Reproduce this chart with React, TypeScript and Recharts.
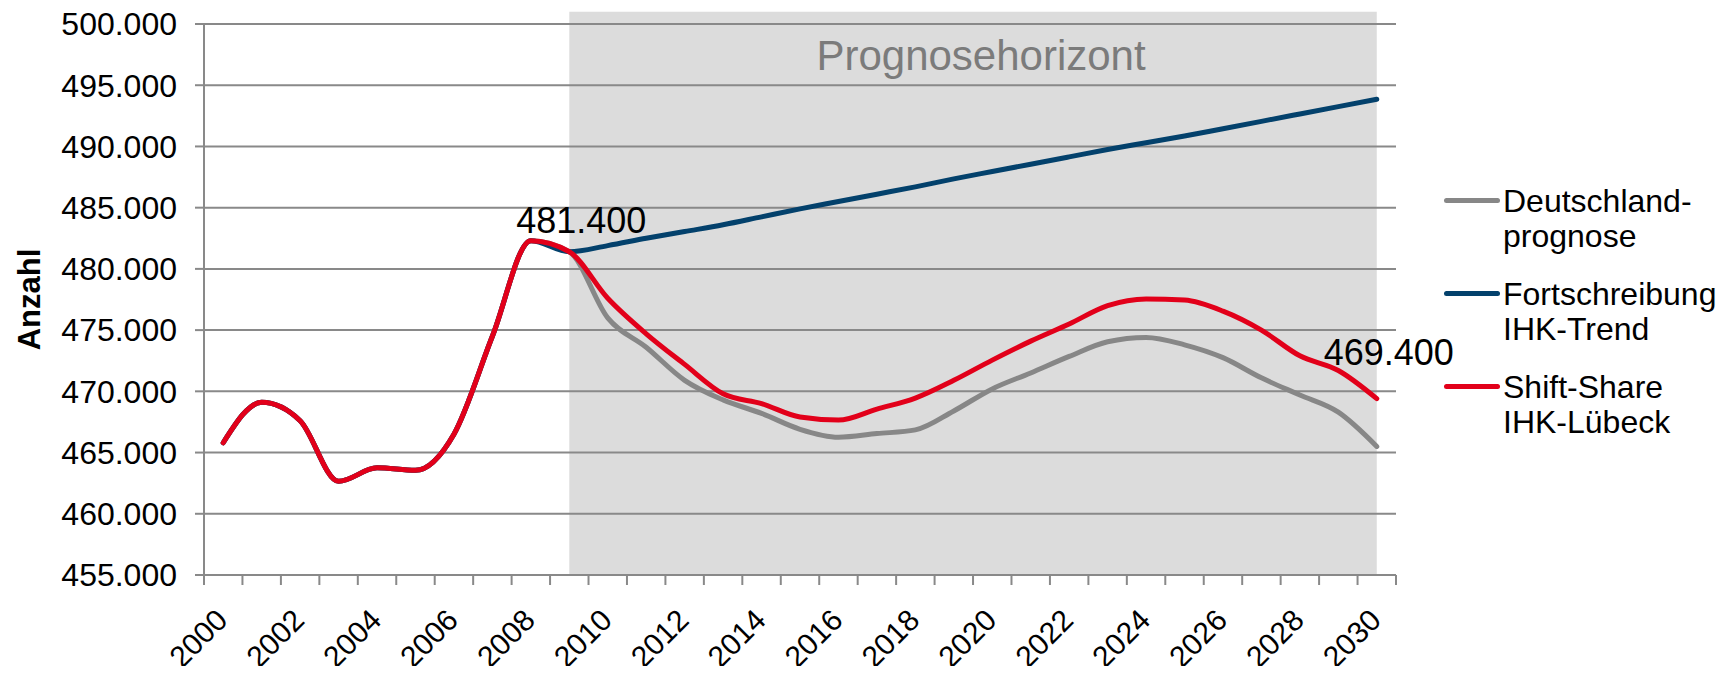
import React from 'react';
import {
  LineChart,
  Line,
  XAxis,
  YAxis,
  CartesianGrid,
  ReferenceArea,
  Legend,
  LabelList,
} from 'recharts';

// ---------- data ----------
const YEARS = [
  '2000', '2001', '2002', '2003', '2004', '2005', '2006', '2007', '2008', '2009',
  '2010', '2011', '2012', '2013', '2014', '2015', '2016', '2017', '2018', '2019',
  '2020', '2021', '2022', '2023', '2024', '2025', '2026', '2027', '2028', '2029', '2030',
];

const HISTORY = [465800, 469100, 467600, 462650, 463750, 463550, 466500, 474500, 482300, 481400];

const DEUTSCHLAND = [
  ...HISTORY,
  476000, 473600, 470900, 469300, 468200, 466900, 466250, 466550, 466850, 468400,
  470200, 471500, 472850, 474050, 474400, 473800, 472750, 471100, 469700, 468300, 465500,
];

const FORTSCHREIBUNG = [
  ...HISTORY,
  481900, 482500, 483050, 483600, 484250, 484900, 485500, 486100, 486700, 487350,
  487950, 488550, 489150, 489750, 490300, 490850, 491450, 492050, 492650, 493250, 493850,
];

const SHIFT_SHARE = [
  ...HISTORY,
  477600, 474700, 472200, 469800, 469000, 467900, 467650, 468550, 469450, 470900,
  472550, 474100, 475500, 477000, 477550, 477450, 476550, 475000, 472900, 471700, 469400,
];

const Y_TICKS = [455000, 460000, 465000, 470000, 475000, 480000, 485000, 490000, 495000, 500000];

const SERIES_NAMES = ['Deutschland-\nprognose', 'Fortschreibung\nIHK-Trend', 'Shift-Share\nIHK-Lübeck'];
const Y_TITLE = 'Anzahl';
const SHADE_LABEL = 'Prognosehorizont';
const SHADE_FROM = '2009';
const SHADE_TO = '2030';
const SHADE_BOTTOM = 455000;
const SHADE_TOP = 501000;
const LABELLED = [9, 30];

const data = YEARS.map((year, i) => ({
  year,
  de: DEUTSCHLAND[i],
  fort: FORTSCHREIBUNG[i],
  shift: SHIFT_SHARE[i],
}));

// ---------- styles ----------
const FONT = '"Liberation Sans", Arial, sans-serif';
const CHART_W = 1710;
const BOX_H = 658;
const CHART_H = 666;
const Y_AXIS_W = 196;
const MARGIN_TOP = 16;
const LEGEND_W = 274;
const MARGIN_RIGHT = 48;
const X_AXIS_H = 99;
const PLOT_W = CHART_W - Y_AXIS_W - LEGEND_W - MARGIN_RIGHT;
const CAT_STEP = PLOT_W / YEARS.length;
const AXIS_COLOR = '#898989';
const GREY = '#878787';
const BLUE = '#03416c';
const RED = '#e2001a';
const SHADE = '#dcdcdc';

const fmt = (v: number) => String(Math.round(v)).replace(/\B(?=(\d{3})+(?!\d))/g, '.');

const XTick = (props: any) => {
  const { x, y, payload } = props;
  const i = payload.index;
  const half = CAT_STEP / 2;
  const tx = x + 6;
  const ty = y + 47;
  return (
    <g>
      <line x1={x - half} x2={x - half} y1={y} y2={y + 10} stroke={AXIS_COLOR} strokeWidth={2} />
      {i === YEARS.length - 1 && (
        <line x1={x + half} x2={x + half} y1={y} y2={y + 10} stroke={AXIS_COLOR} strokeWidth={2} />
      )}
      {i % 2 === 0 && (
        <text
          x={tx}
          y={ty}
          transform={`rotate(-45 ${tx} ${ty})`}
          textAnchor="end"
          fontSize={30}
          fontFamily={FONT}
          fill="#000"
        >
          {payload.value}
        </text>
      )}
    </g>
  );
};

const LABEL_DY: Record<number, number> = { 9: -19, 30: -34 };

const renderDataLabel = (props: any) => {
  const { x, y, value, index } = props;
  if (!LABELLED.includes(index)) return null;
  return (
    <text
      x={x + 12}
      y={y + LABEL_DY[index]}
      textAnchor="middle"
      fontSize={36}
      fontFamily={FONT}
      fill="#000"
    >
      {fmt(value)}
    </text>
  );
};

const renderLegend = (props: any) => {
  const { payload } = props;
  return (
    <div style={{ fontFamily: FONT, fontSize: 32, lineHeight: '35px', color: '#000' }}>
      {payload.map((p: any, idx: number) => (
        <div key={idx} style={{ position: 'relative', height: 93 }}>
          <div
            style={{
              position: 'absolute',
              left: 0,
              top: 14,
              width: 56,
              height: 5,
              borderRadius: 3,
              background: p.color,
            }}
          />
          <div style={{ position: 'absolute', left: 59, top: 0, whiteSpace: 'nowrap' }}>
            {String(p.value)
              .split('\n')
              .map((line: string, k: number) => (
                <div key={k}>{line}</div>
              ))}
          </div>
        </div>
      ))}
    </div>
  );
};

const renderShadeLabel = (props: any) => {
  const vb = props.viewBox || {};
  return (
    <text
      x={vb.x + vb.width / 2 + 8}
      y={vb.y + 58}
      textAnchor="middle"
      fontSize={42}
      fontFamily={FONT}
      fill="#7b7b7b"
    >
      {SHADE_LABEL}
    </text>
  );
};

const renderYTitle = (props: any) => {
  const vb = props.viewBox || {};
  const cx = vb.x + 32;
  const cy = vb.y + vb.height / 2;
  return (
    <text
      x={cx}
      y={cy}
      transform={`rotate(-90 ${cx} ${cy})`}
      textAnchor="middle"
      fontSize={31}
      fontWeight="bold"
      fontFamily={FONT}
      fill="#000"
    >
      {Y_TITLE}
    </text>
  );
};

export default function App() {
  return (
    <div style={{ width: CHART_W, height: BOX_H, fontFamily: FONT }}>
      <LineChart
        width={CHART_W}
        height={CHART_H}
        data={data}
        margin={{ top: MARGIN_TOP, right: MARGIN_RIGHT, bottom: 0, left: 0 }}
      >
        <ReferenceArea
          x1={SHADE_FROM}
          x2={SHADE_TO}
          y1={SHADE_BOTTOM}
          y2={SHADE_TOP}
          fill={SHADE}
          fillOpacity={1}
          stroke="none"
          ifOverflow="visible"
          zIndex={-200}
          label={renderShadeLabel}
        />
        <CartesianGrid vertical={false} stroke={AXIS_COLOR} strokeWidth={2} strokeDasharray="" />
        <XAxis
          dataKey="year"
          type="category"
          interval={0}
          height={X_AXIS_H}
          padding={{ left: CAT_STEP / 2, right: CAT_STEP / 2 }}
          axisLine={{ stroke: AXIS_COLOR, strokeWidth: 2 }}
          tickLine={false}
          tickSize={0}
          tickMargin={0}
          tick={<XTick />}
        />
        <YAxis
          width={Y_AXIS_W}
          domain={[455000, 500000]}
          ticks={Y_TICKS}
          interval={0}
          tickFormatter={fmt}
          axisLine={{ stroke: AXIS_COLOR, strokeWidth: 2 }}
          tickLine={{ stroke: AXIS_COLOR, strokeWidth: 2 }}
          tickSize={9}
          tickMargin={18}
          tick={{ fontSize: 32, fontFamily: FONT, fill: '#000' }}
          label={{ value: Y_TITLE, content: renderYTitle }}
        />
        <Legend
          layout="vertical"
          align="right"
          verticalAlign="middle"
          content={renderLegend}
          wrapperStyle={{ position: 'absolute', left: 1436, top: 176, width: LEGEND_W, height: 290 }}
        />
        <Line
          name={SERIES_NAMES[0]}
          dataKey="de"
          type="monotone"
          stroke={GREY}
          strokeWidth={5}
          strokeLinecap="round"
          strokeLinejoin="round"
          dot={false}
          activeDot={false}
          isAnimationActive={false}
        />
        <Line
          name={SERIES_NAMES[1]}
          dataKey="fort"
          type="monotone"
          stroke={BLUE}
          strokeWidth={5}
          strokeLinecap="round"
          strokeLinejoin="round"
          dot={false}
          activeDot={false}
          isAnimationActive={false}
        />
        <Line
          name={SERIES_NAMES[2]}
          dataKey="shift"
          type="monotone"
          stroke={RED}
          strokeWidth={5}
          strokeLinecap="round"
          strokeLinejoin="round"
          dot={false}
          activeDot={false}
          isAnimationActive={false}
        >
          <LabelList dataKey="shift" content={renderDataLabel} />
        </Line>
      </LineChart>
    </div>
  );
}
